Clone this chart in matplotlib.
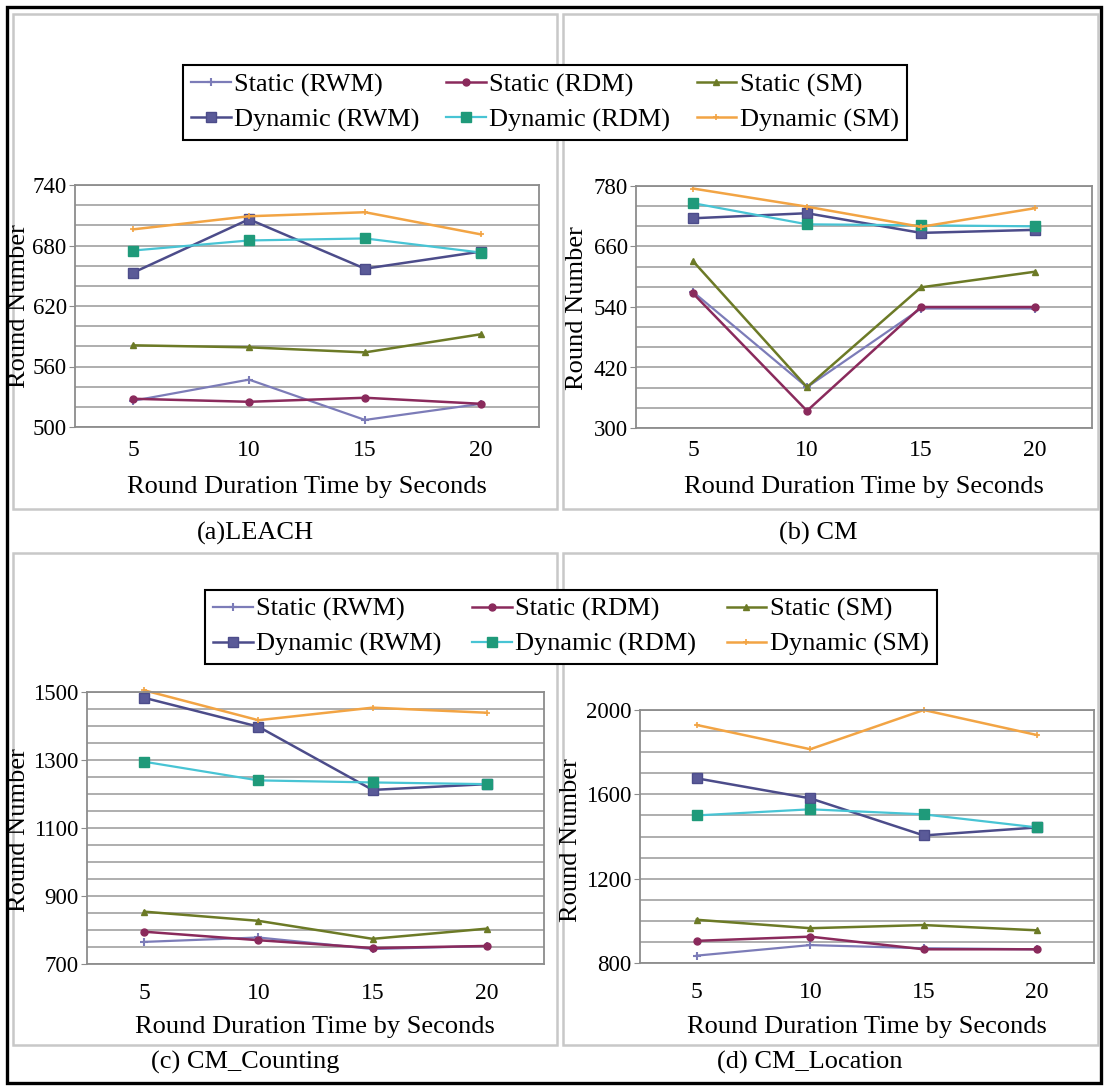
import matplotlib
matplotlib.use("Agg")
import numpy as np
import matplotlib.pyplot as plt
from matplotlib.lines import Line2D
from matplotlib.patches import Rectangle
from matplotlib.ticker import FixedLocator

plt.rcParams['font.family'] = ['Liberation Serif', 'DejaVu Serif']

# ---------------- data ----------------
x_labels = ['5', '10', '15', '20']
series_names = ['Static (RWM)', 'Static (RDM)', 'Static (SM)',
                'Dynamic (RWM)', 'Dynamic (RDM)', 'Dynamic (SM)']

leach_s_rwm = [526, 547, 507, 523]
leach_s_rdm = [528, 525, 529, 523]
leach_s_sm = [581, 579, 574, 592]
leach_d_rwm = [653, 706, 657, 674]
leach_d_rdm = [675, 685, 687, 673]
leach_d_sm = [696, 709, 713, 691]

cm_s_rwm = [570, 381, 537, 537]
cm_s_rdm = [567, 334, 540, 540]
cm_s_sm = [631, 381, 579, 610]
cm_d_rwm = [716, 726, 687, 693]
cm_d_rdm = [746, 704, 702, 700]
cm_d_sm = [775, 739, 699, 736]

cnt_s_rwm = [765, 778, 744, 753]
cnt_s_rdm = [795, 770, 747, 753]
cnt_s_sm = [854, 827, 774, 804]
cnt_d_rwm = [1483, 1398, 1212, 1229]
cnt_d_rdm = [1295, 1240, 1234, 1229]
cnt_d_sm = [1505, 1417, 1454, 1439]

loc_s_rwm = [835, 885, 870, 865]
loc_s_rdm = [905, 925, 865, 865]
loc_s_sm = [1005, 965, 980, 955]
loc_d_rwm = [1676, 1581, 1405, 1443]
loc_d_rdm = [1500, 1529, 1505, 1443]
loc_d_sm = [1929, 1814, 2000, 1881]

captions = ['(a)LEACH', '(b) CM', '(c) CM_Counting', '(d) CM_Location']
x_title = 'Round Duration Time by Seconds'
y_title = 'Round Number'

# ---------------- styles ----------------
styles = [
    dict(color='#7c7cb8', lw=1.6, marker='+', ms=6, mew=1.5, mfc='#7c7cb8', mec='#7c7cb8'),
    dict(color='#8a2a5c', lw=1.8, marker='o', ms=5, mew=1.0, mfc='#8a2a5c', mec='#8a2a5c'),
    dict(color='#6c7a26', lw=1.8, marker='^', ms=5, mew=1.0, mfc='#6c7a26', mec='#6c7a26'),
    dict(color='#4c4c8a', lw=1.8, marker='s', ms=7, mew=1.0, mfc='#5a5a98', mec='#4c4c8a'),
    dict(color='#48c4d4', lw=1.6, marker='s', ms=7, mew=1.0, mfc='#1f9a7a', mec='#1f9a7a'),
    dict(color='#f2a444', lw=1.8, marker='+', ms=5, mew=1.2, mfc='#f2a444', mec='#f2a444'),
]

W, H = 1106, 1088
fig = plt.figure(figsize=(W / 100, H / 100), dpi=100)


def fx(px):
    return px / W


def fy(py):
    return 1 - py / H


def add_axes(l, r, t, b):
    return fig.add_axes([fx(l), fy(b), (r - l) / W, (b - t) / H])


# outer black border and light panel frames
fig.add_artist(Rectangle((fx(7), fy(1083)), (1101 - 7) / W, (1083 - 7) / H,
                         transform=fig.transFigure, fill=False, ec='black', lw=2.4))
for (l, r, t, b) in [(13, 557, 14, 509), (563, 1098, 14, 509),
                     (13, 557, 553, 1045), (563, 1098, 553, 1045)]:
    fig.add_artist(Rectangle((fx(l), fy(b)), (r - l) / W, (b - t) / H,
                             transform=fig.transFigure, fill=False, ec='#c8c8c8', lw=1.8))

panels = [
    dict(box=(75, 539, 185, 427), data=[leach_s_rwm, leach_s_rdm, leach_s_sm, leach_d_rwm, leach_d_rdm, leach_d_sm],
         ylim=(500, 740), major=60, minor=20, pad=9),
    dict(box=(636, 1092, 186, 428), data=[cm_s_rwm, cm_s_rdm, cm_s_sm, cm_d_rwm, cm_d_rdm, cm_d_sm],
         ylim=(300, 780), major=120, minor=40, pad=9),
    dict(box=(87, 544, 692, 964), data=[cnt_s_rwm, cnt_s_rdm, cnt_s_sm, cnt_d_rwm, cnt_d_rdm, cnt_d_sm],
         ylim=(700, 1500), major=200, minor=50, pad=14),
    dict(box=(640, 1094, 710, 963), data=[loc_s_rwm, loc_s_rdm, loc_s_sm, loc_d_rwm, loc_d_rdm, loc_d_sm],
         ylim=(800, 2000), major=400, minor=100, pad=14),
]

xpos = list(range(len(x_labels)))
for p in panels:
    ax = add_axes(*p['box'])
    lo, hi = p['ylim']
    ax.set_xlim(-0.5, len(x_labels) - 0.5)
    ax.set_ylim(lo, hi)
    ax.yaxis.set_major_locator(FixedLocator(np.arange(lo, hi + 1, p['major'])))
    ax.yaxis.set_minor_locator(FixedLocator(np.arange(lo, hi + 1, p['minor'])))
    ax.grid(True, which='both', axis='y', color='#a8a8a8', lw=1.3)
    ax.set_axisbelow(True)
    ax.set_xticks(xpos)
    ax.set_xticklabels(x_labels)
    ax.tick_params(axis='x', length=0, pad=p['pad'], labelsize=17)
    ax.tick_params(axis='y', which='major', length=4, color='#8c8c8c', pad=2, labelsize=16.5)
    ax.tick_params(axis='y', which='minor', length=0)
    for s in ax.spines.values():
        s.set_color('#8c8c8c')
        s.set_linewidth(1.3)
    for vals, st in zip(p['data'], styles):
        ax.plot(xpos, vals, clip_on=False, **st)

# axis titles and captions
for (x, y) in [(307, 487), (864, 487), (315, 1027), (867, 1027)]:
    fig.text(fx(x), fy(y), x_title, ha='center', va='center', fontsize=19)
for (x, y) in [(19, 306), (577, 308), (19, 830), (571, 840)]:
    fig.text(fx(x), fy(y), y_title, ha='center', va='center', rotation=90, fontsize=19)
for cap, (x, y) in zip(captions, [(255, 533), (818, 533), (245, 1062), (810, 1062)]):
    fig.text(fx(x), fy(y), cap, ha='center', va='center', fontsize=19)

# legends (static row on top, dynamic row below)
order = [0, 3, 1, 4, 2, 5]
handles = [Line2D([], [], **styles[i]) for i in order]
labels = [series_names[i] for i in order]
for (l, r, t, b) in [(183, 907, 62, 143), (205, 937, 586, 668)]:
    leg = fig.legend(handles, labels, ncol=3, loc='center',
                     bbox_to_anchor=(fx(l), fy(b), (r - l) / W, (b - t) / H),
                     mode='expand', fontsize=19, frameon=True, fancybox=False,
                     edgecolor='black', framealpha=1, borderpad=0.3, labelspacing=0.42,
                     handlelength=1.5, handletextpad=0.15, columnspacing=0.5,
                     borderaxespad=0, numpoints=1)
    leg.get_frame().set_linewidth(1.5)

fig.savefig('out.png', dpi=100, facecolor='white')
